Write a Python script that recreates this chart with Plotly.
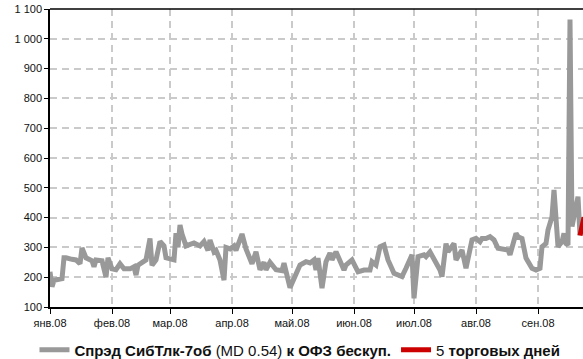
import plotly.graph_objects as go

spread_dates = [
    "2008-01-01", "2008-01-02", "2008-01-03", "2008-01-07", "2008-01-08", "2008-01-09",
    "2008-01-12", "2008-01-14", "2008-01-16", "2008-01-17", "2008-01-19", "2008-01-22",
    "2008-01-23", "2008-01-24", "2008-01-27", "2008-01-29", "2008-01-30", "2008-02-01",
    "2008-02-03", "2008-02-05", "2008-02-07", "2008-02-10", "2008-02-12", "2008-02-13",
    "2008-02-14", "2008-02-18", "2008-02-20", "2008-02-21", "2008-02-23", "2008-02-25",
    "2008-02-27", "2008-02-28", "2008-03-03", "2008-03-04", "2008-03-05", "2008-03-06",
    "2008-03-07", "2008-03-09", "2008-03-13", "2008-03-16", "2008-03-18", "2008-03-20",
    "2008-03-21", "2008-03-23", "2008-03-24", "2008-03-26", "2008-03-28", "2008-03-29",
    "2008-03-31", "2008-04-02", "2008-04-03", "2008-04-06", "2008-04-08", "2008-04-11",
    "2008-04-13", "2008-04-15", "2008-04-17", "2008-04-18", "2008-04-20", "2008-04-23",
    "2008-04-26", "2008-04-27", "2008-04-30", "2008-05-03", "2008-05-05", "2008-05-08",
    "2008-05-10", "2008-05-12", "2008-05-13", "2008-05-14", "2008-05-16", "2008-05-18",
    "2008-05-20", "2008-05-21", "2008-05-23", "2008-05-24", "2008-05-27", "2008-05-28",
    "2008-05-31", "2008-06-03", "2008-06-06", "2008-06-09", "2008-06-10", "2008-06-12",
    "2008-06-14", "2008-06-16", "2008-06-18", "2008-06-21", "2008-06-24", "2008-06-25",
    "2008-06-27", "2008-06-30", "2008-07-01", "2008-07-03", "2008-07-06", "2008-07-07",
    "2008-07-09", "2008-07-12", "2008-07-14", "2008-07-15", "2008-07-17", "2008-07-18",
    "2008-07-20", "2008-07-21", "2008-07-22", "2008-07-25", "2008-07-27", "2008-07-30",
    "2008-08-01", "2008-08-03", "2008-08-04", "2008-08-06", "2008-08-08", "2008-08-10",
    "2008-08-12", "2008-08-15", "2008-08-17", "2008-08-18", "2008-08-21", "2008-08-22",
    "2008-08-24", "2008-08-26", "2008-08-27", "2008-08-29", "2008-08-31", "2008-09-02",
    "2008-09-03", "2008-09-05", "2008-09-06", "2008-09-08", "2008-09-09", "2008-09-10",
    "2008-09-11", "2008-09-13", "2008-09-14", "2008-09-15", "2008-09-16", "2008-09-17",
    "2008-09-18", "2008-09-21", "2008-09-22",
]
spread_values = [
    218, 168, 190, 195, 265, 265,
    260, 258, 245, 298, 265, 255,
    235, 258, 255, 200, 265, 228,
    225, 245, 228, 228, 235, 207,
    240, 258, 330, 240, 258, 320,
    305, 265, 258, 348, 300, 375,
    345, 305, 315, 305, 320, 290,
    325, 285, 290, 258, 190, 300,
    295, 305, 290, 345, 295, 245,
    285, 225, 250, 225, 250, 225,
    222, 247, 165, 207, 241, 252,
    248, 258, 224, 264, 163, 252,
    281, 258, 285, 270, 224, 241,
    258, 218, 224, 224, 252, 241,
    302, 308, 258, 213, 207, 202,
    230, 275, 129, 269, 275, 269,
    285, 252, 224, 202, 313, 285,
    302, 313, 258, 291, 230, 325,
    330, 319, 330, 330, 336, 325,
    297, 291, 291, 275, 347, 336,
    330, 264, 252, 230, 224, 230,
    302, 313, 358, 403, 493, 414,
    302, 319, 347, 313, 308, 1065,
    370, 470, 340,
]

last5_dates = ["2008-09-22", "2008-09-23", "2008-09-24", "2008-09-25", "2008-09-26"]
last5_values = [340, 382, 400, 390, 380]

y_tickvals = [100, 200, 300, 400, 500, 600, 700, 800, 900, 1000, 1100]
y_ticktext = ["100", "200", "300", "400", "500", "600", "700", "800", "900", "1 000", "1 100"]

x_tickvals = ["2008-01-01", "2008-02-01", "2008-03-01", "2008-04-01", "2008-05-01",
              "2008-06-01", "2008-07-01", "2008-08-01", "2008-09-01"]
x_ticktext = ["янв.08", "фев.08", "мар.08", "апр.08", "май.08",
              "июн.08", "июл.08", "авг.08", "сен.08"]

FONT = "Liberation Sans, Arial, sans-serif"

fig = go.Figure()
fig.add_trace(go.Scatter(
    x=spread_dates, y=spread_values, mode="lines",
    line=dict(color="#999999", width=5),
    name="<b>Спрэд СибТлк-7об</b> (MD 0.54) <b>к ОФЗ бескуп.</b>",
))
fig.add_trace(go.Scatter(
    x=last5_dates, y=last5_values, mode="lines",
    line=dict(color="#CC0000", width=5),
    name="5 <b>торговых дней</b>",
))

fig.update_layout(
    width=583, height=359,
    margin=dict(l=50, r=0, t=9, b=52, autoexpand=False),
    paper_bgcolor="white", plot_bgcolor="white",
    font=dict(family=FONT, size=11, color="#111111"),
    showlegend=True,
    legend=dict(
        orientation="h", x=0.469, xanchor="center",
        yref="container", y=0.025, yanchor="middle",
        font=dict(family=FONT, size=15, color="#111111"),
        itemwidth=30, traceorder="normal", bgcolor="rgba(0,0,0,0)",
    ),
    xaxis=dict(
        type="date", automargin=False,
        range=["2008-01-01", "2008-09-23 12:00"],
        tickvals=x_tickvals, ticktext=x_ticktext,
        showgrid=True, gridcolor="#CACACA", griddash="7px,5px", gridwidth=1.5,
        showline=True, linecolor="black", linewidth=1.5,
        ticks="outside", ticklen=5, tickcolor="black",
        zeroline=False,
    ),
    yaxis=dict(
        range=[100, 1100], automargin=False,
        tickvals=y_tickvals, ticktext=y_ticktext,
        showgrid=True, gridcolor="#CACACA", griddash="7px,5px", gridwidth=1.5,
        showline=True, linecolor="black", linewidth=1.5,
        ticks="outside", ticklen=4, tickcolor="black",
        zeroline=False,
    ),
)
fig.add_shape(type="line", xref="paper", yref="paper", x0=0, x1=1, y0=1, y1=1,
              line=dict(color="black", width=1.5))

fig.write_html("out.html", post_script="document.body.style.margin='0';",
               config={"displayModeBar": False})
